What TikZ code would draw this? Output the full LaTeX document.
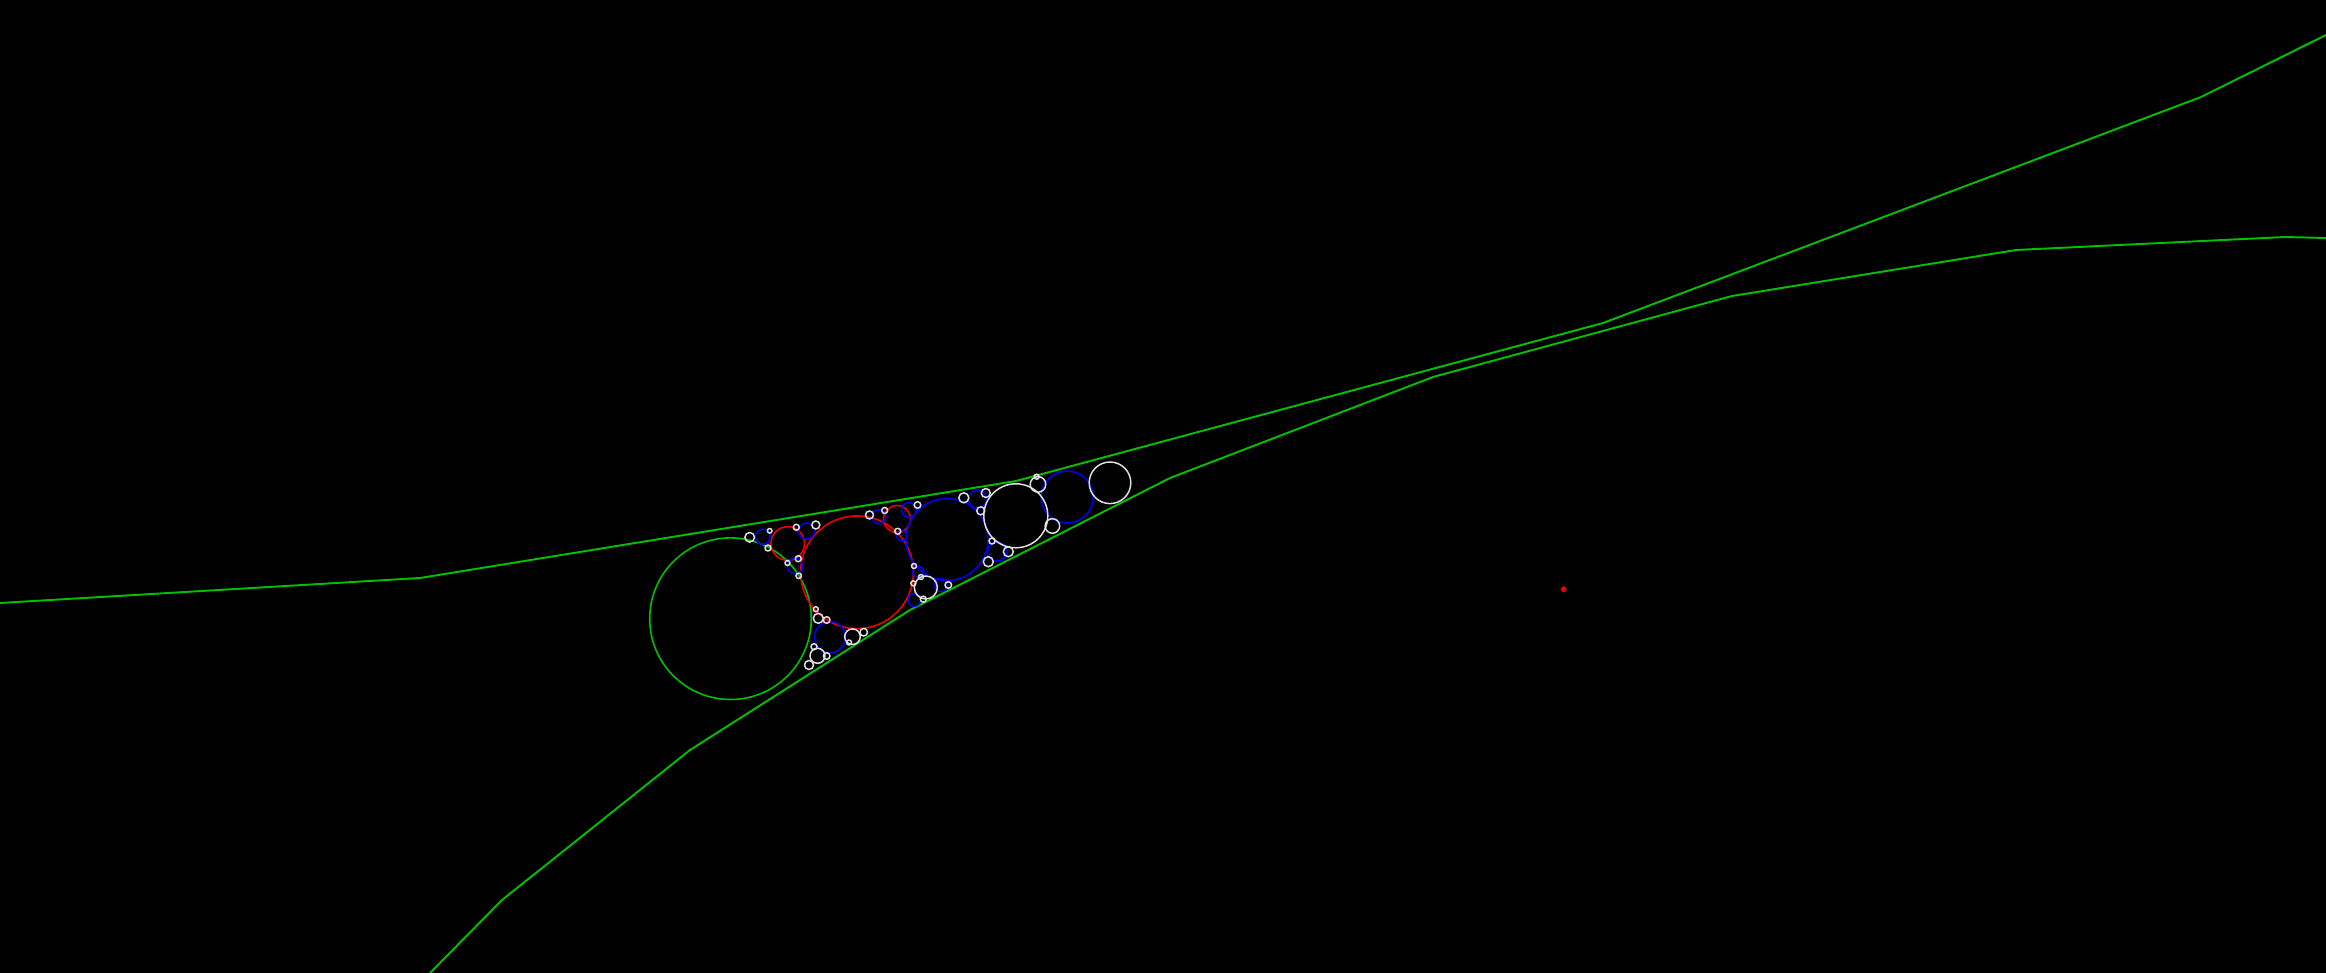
\documentclass[tikz,border=0pt]{standalone}
\definecolor{lgreen}{RGB}{0,192,0}
\definecolor{cwhite}{RGB}{225,225,225}
\definecolor{cblue}{RGB}{0,0,240}
\definecolor{cred}{RGB}{235,0,0}
\tikzset{
  gline/.style={draw=lgreen, line width=0.55pt, line join=round},
  gc/.style={draw=lgreen, line width=0.45pt},
  rc/.style={draw=cred, line width=0.45pt},
  bc/.style={draw=cblue, line width=0.45pt},
  wc/.style={draw=cwhite, line width=0.42pt},
}
\newcommand\pcirc[4]{\draw[#1] (#2,#3) circle[radius=#4*0.01cm];}
\begin{document}
\begin{tikzpicture}[x=0.01cm,y=-0.01cm]
\useasboundingbox (0,0) rectangle (2326,973);
\fill[black] (0,0) rectangle (2326,973);

% upper green polyline
\coordinate (a0) at (0,603);
\coordinate (a1) at (420,578);
\coordinate (a2) at (1016,481);
\coordinate (a3) at (1603,323);
\coordinate (a4) at (2201,97);
\coordinate (a5) at (2326,35);
\draw[gline] (a0) -- (a1) -- (a2) -- (a3) -- (a4) -- (a5);

% lower green polyline
\coordinate (b0) at (430,973);
\coordinate (b1) at (502,900);
\coordinate (b2) at (690,750);
\coordinate (b3) at (800,680);
\coordinate (b4) at (910,610);
\coordinate (b5) at (1170,478);
\coordinate (b6) at (1433,377);
\coordinate (b7) at (1732,296);
\coordinate (b8) at (2016,250);
\coordinate (b9) at (2285,237);
\coordinate (b10) at (2326,238);
\draw[gline] (b0) -- (b1) -- (b2) -- (b3) -- (b4) -- (b5) -- (b6) -- (b7) -- (b8) -- (b9) -- (b10);

% green circle
\pcirc{gc}{730.5}{618.7}{80.8}

% red circles
\pcirc{rc}{857}{572.3}{56.4}
\pcirc{rc}{787.7}{543.5}{16.8}
\pcirc{rc}{897}{519}{13.5}

% blue circles
\pcirc{bc}{947}{539.5}{41}
\pcirc{bc}{1067.2}{497}{26}
\pcirc{bc}{830}{637.2}{15.5}
\pcirc{bc}{762.7}{536.7}{7.5}
\pcirc{bc}{806.7}{531}{8}
\pcirc{bc}{795}{566}{7.8}
\pcirc{bc}{909}{510}{7.5}
\pcirc{bc}{879}{516.7}{7}
\pcirc{bc}{901.7}{535.8}{5.5}
\pcirc{bc}{918}{571.5}{5.5}
\pcirc{bc}{997}{551.7}{9.5}
\pcirc{bc}{977.5}{499.2}{9}
\pcirc{bc}{914.2}{600}{6.3}
\pcirc{bc}{940.8}{585}{6.5}

% white circles
\pcirc{wc}{1015.8}{515.8}{32}
\pcirc{wc}{1110}{482.8}{20.8}
\pcirc{wc}{925.8}{587.5}{11.5}
\pcirc{wc}{1038}{484.4}{7.8}
\pcirc{wc}{1052.4}{526}{7.3}
\pcirc{wc}{852.5}{636.7}{7.8}
\pcirc{wc}{817.5}{655.8}{7.5}
\pcirc{wc}{749.7}{537.3}{4.8}
\pcirc{wc}{963.8}{497.8}{5}
\pcirc{wc}{985.8}{493}{4.5}
\pcirc{wc}{980.7}{510.8}{4}
\pcirc{wc}{917.5}{505}{3.3}
\pcirc{wc}{1008.3}{551.7}{5}
\pcirc{wc}{988.3}{561.7}{5}
\pcirc{wc}{992}{541}{3}
\pcirc{wc}{863.7}{632.2}{3.8}
\pcirc{wc}{849}{642.5}{2.5}
\pcirc{wc}{809}{665}{4.5}
\pcirc{wc}{826.7}{656}{3.3}
\pcirc{wc}{814}{646.7}{3}
\pcirc{wc}{818.3}{618.3}{5}
\pcirc{wc}{815.8}{609.2}{2.5}
\pcirc{wc}{826.7}{620}{3.3}
\pcirc{wc}{948.3}{585}{3.3}
\pcirc{wc}{923.3}{599.2}{3}
\pcirc{wc}{914}{566}{2.5}
\pcirc{wc}{921}{577}{2.5}
\pcirc{wc}{913.3}{583.3}{2.5}
\pcirc{wc}{869.5}{515}{4}
\pcirc{wc}{884.7}{510.5}{3}
\pcirc{wc}{897.7}{531.3}{3}
\pcirc{wc}{768}{548}{3}
\pcirc{wc}{796.3}{527.3}{3}
\pcirc{wc}{815.8}{525}{4}
\pcirc{wc}{769.7}{530.8}{2.3}
\pcirc{wc}{798.3}{558.7}{3}
\pcirc{wc}{798.7}{575.8}{2.7}
\pcirc{wc}{787.5}{563}{2.5}
\pcirc{wc}{1036.7}{476.7}{2.5}

% red dot
\fill[cred] (1563.7,589.3) circle[radius=3*0.01cm];
\end{tikzpicture}
\end{document}
